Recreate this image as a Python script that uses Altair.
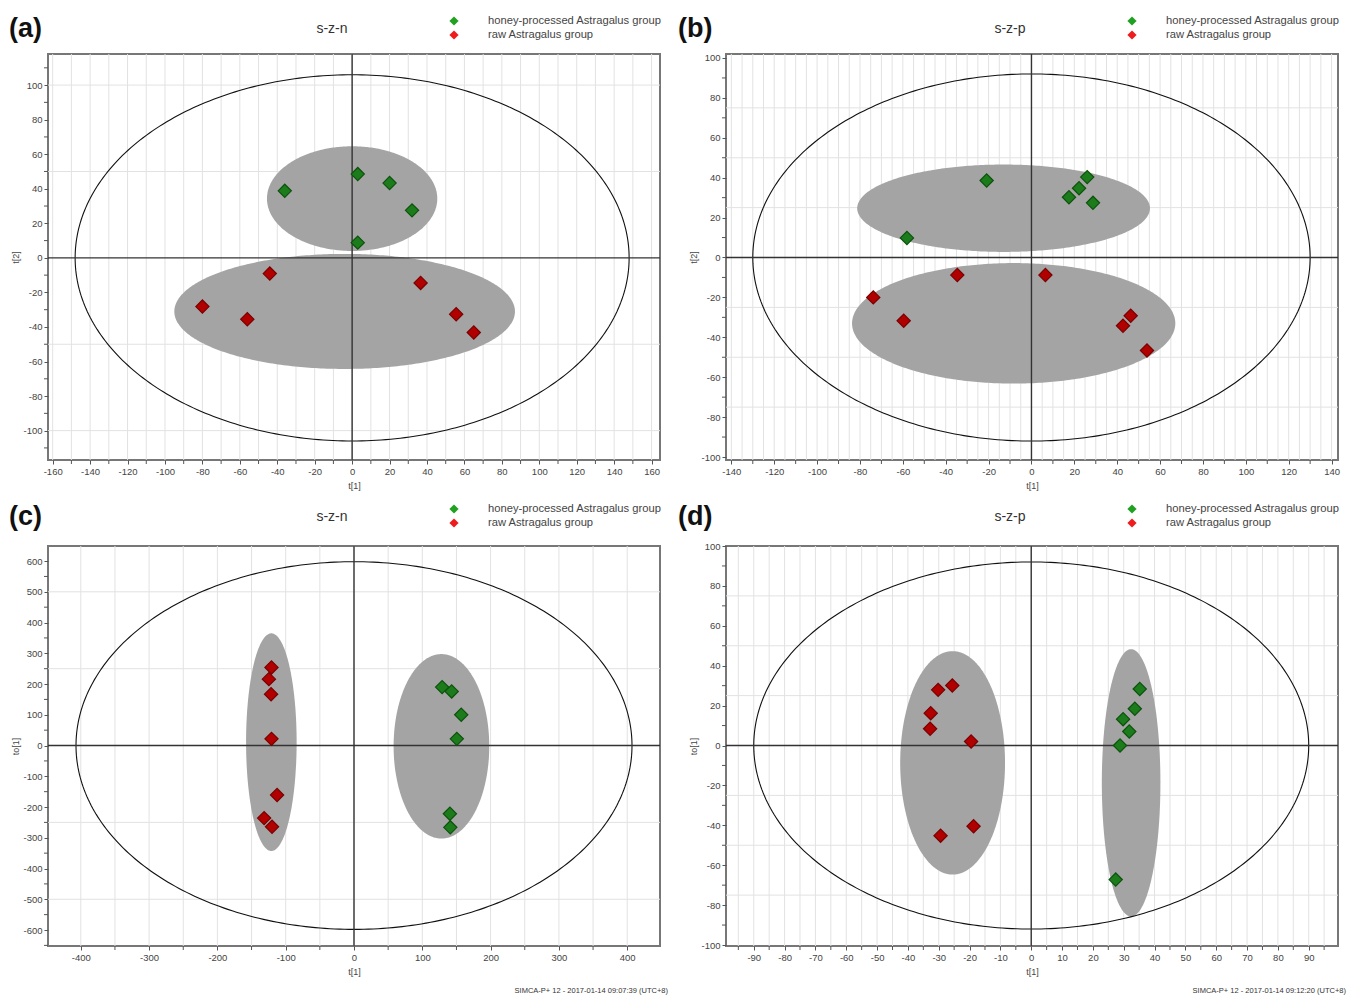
import numpy as np
import pandas as pd
import altair as alt

GROUPS = ["honey-processed Astragalus group", "raw Astragalus group"]

# ---------------- panel (a)  s-z-n : t[1] vs t[2]
A_HONEY_X = [-36, 3, 20, 32, 3]
A_HONEY_Y = [38.8, 48.5, 43.3, 27.5, 8.8]
A_RAW_X = [-44, -80, -56, 36.6, 55.6, 65]
A_RAW_Y = [-9.1, -28.2, -35.5, -14.5, -32.6, -43.2]
A_HONEY_ELL = [0, 34.3, 45.5, 30.3]      # centre x, centre y, semi x, semi y
A_RAW_ELL = [-4, -31, 91, 33.3]
A_T2 = [148, 106]
A_XLABELS = [-160, -140, -120, -100, -80, -60, -40, -20, 0, 20, 40, 60, 80, 100, 120, 140, 160]
A_YLABELS = [-100, -80, -60, -40, -20, 0, 20, 40, 60, 80, 100]

# ---------------- panel (b)  s-z-p : t[1] vs t[2]
B_HONEY_X = [-20.9, -58.1, 17.5, 22.2, 26, 28.7]
B_HONEY_Y = [38.6, 9.8, 30.2, 34.7, 40.3, 27.4]
B_RAW_X = [-73.8, -59.6, -34.6, 6.5, 46.3, 42.7, 53.9]
B_RAW_Y = [-20, -31.7, -8.8, -8.8, -29.2, -34.2, -46.6]
B_HONEY_ELL = [-13, 24.7, 68.3, 21.9]
B_RAW_ELL = [-8.3, -33, 75.4, 30.2]
B_T2 = [130, 92]
B_XLABELS = [-140, -120, -100, -80, -60, -40, -20, 0, 20, 40, 60, 80, 100, 120, 140]
B_YLABELS = [-100, -80, -60, -40, -20, 0, 20, 40, 60, 80, 100]

# ---------------- panel (c)  s-z-n : t[1] vs to[1]
C_HONEY_X = [129, 143, 157, 150.5, 140.4, 141]
C_HONEY_Y = [190, 176, 100, 21.7, -222, -266]
C_RAW_X = [-120.8, -124.6, -121.4, -120.8, -112.6, -131.6, -120]
C_RAW_Y = [254, 216, 167, 21.7, -161, -236, -264]
C_HONEY_ELL = [128, -2.5, 70, 300]
C_RAW_ELL = [-121, 11, 37, 354]
C_T2 = [407, 598]
C_XLABELS = [-400, -300, -200, -100, 0, 100, 200, 300, 400]
C_YLABELS = [-600, -500, -400, -300, -200, -100, 0, 100, 200, 300, 400, 500, 600]

# ---------------- panel (d)  s-z-p : t[1] vs to[1]
D_HONEY_X = [35.2, 33.6, 29.8, 31.8, 28.8, 27.4]
D_HONEY_Y = [28.3, 18.4, 13.2, 7, 0, -67.2]
D_RAW_X = [-30.2, -25.6, -32.6, -32.8, -19.5, -29.4, -18.7]
D_RAW_Y = [27.9, 30.1, 16.2, 8.4, 2, -45.2, -40.5]
D_HONEY_ELL = [32.4, -18.7, 9.5, 67]
D_RAW_ELL = [-25.5, -8.7, 17, 56]
D_T2 = [90, 92]
D_XLABELS = [-90, -80, -70, -60, -50, -40, -30, -20, -10, 0, 10, 20, 30, 40, 50, 60, 70, 80, 90]
D_YLABELS = [-100, -80, -60, -40, -20, 0, 20, 40, 60, 80, 100]

FOOTER_C = "SIMCA-P+ 12 - 2017-01-14 09:07:39 (UTC+8)"
FOOTER_D = "SIMCA-P+ 12 - 2017-01-14 09:12:20 (UTC+8)"

NARROW = "Liberation Sans Narrow, Arial Narrow, Liberation Sans, Arial"
W, H_TOP, H_BOT = 612, 406, 400


def ellipse_fill(params, g):
    cx, cy, a, b = params
    t = np.linspace(0, np.pi, 181)
    return pd.DataFrame({"x": cx + a * np.cos(t), "y": cy + b * np.sin(t),
                         "y2": cy - b * np.sin(t), "g": g})


def ellipse_ring(semi):
    a, b = semi
    t = np.linspace(0, 2 * np.pi, 361)
    return pd.DataFrame({"x": a * np.cos(t), "y": b * np.sin(t), "i": np.arange(361)})


def steps(lo, hi, step):
    return [int(v) for v in np.arange(lo, hi + step / 2, step)]


def panel(letter, title, hx, hy, rx, ry, hell, rell, t2, xdom, ydom,
          xlabels, ylabels, xgrid, ygrid, xminor, yminor, ytitle, height, lab_dx, footer=None):
    common = dict(grid=False, labelOverlap=False, labelFlush=False, labelBound=False,
                  tickCount=500, labelExpr="'' + datum.value")
    xaxis = alt.Axis(values=xlabels, title="t[1]", titlePadding=6, **common)
    yaxis = alt.Axis(values=ylabels, title=ytitle, titlePadding=2, **common)
    xs = alt.Scale(domain=xdom, nice=False, zero=False)
    ys = alt.Scale(domain=ydom, nice=False, zero=False)
    X = lambda f: alt.X(f, type="quantitative", scale=xs, axis=xaxis)
    Y = lambda f: alt.Y(f, type="quantitative", scale=ys, axis=yaxis)

    gx = alt.Chart(pd.DataFrame({"v": xgrid})).mark_rule(color="#e2e2e2", strokeWidth=1).encode(x=X("v"))
    gy = alt.Chart(pd.DataFrame({"v": ygrid})).mark_rule(color="#e2e2e2", strokeWidth=1).encode(y=Y("v"))
    mx = alt.Chart(pd.DataFrame({"v": xminor})).mark_rule(color="#555", strokeWidth=1).encode(
        x=X("v"), y=alt.value(height), y2=alt.value(height + 4))
    my = alt.Chart(pd.DataFrame({"v": yminor})).mark_rule(color="#555", strokeWidth=1).encode(
        y=Y("v"), x=alt.value(-4), x2=alt.value(0))

    ell = pd.concat([ellipse_fill(hell, "h"), ellipse_fill(rell, "r")])
    fill = alt.Chart(ell).mark_area(color="#a4a4a4", opacity=1).encode(
        x=X("x"), y=Y("y"), y2="y2", detail="g")
    ring = alt.Chart(ellipse_ring(t2)).mark_line(color="#111", strokeWidth=1.1).encode(
        x=X("x"), y=Y("y"), order="i")
    one = pd.DataFrame({"k": [0]})
    vrule = alt.Chart(one).mark_rule(color="#333", strokeWidth=1.4).encode(x=alt.datum(0))
    hrule = alt.Chart(one).mark_rule(color="#333", strokeWidth=1.4).encode(y=alt.datum(0))

    pts = pd.DataFrame({"x": hx + rx, "y": hy + ry,
                        "g": [GROUPS[0]] * len(hx) + [GROUPS[1]] * len(rx)})
    points = alt.Chart(pts).mark_point(shape="diamond", filled=True, size=175,
                                       strokeWidth=1.2, opacity=1).encode(
        x=X("x"), y=Y("y"),
        color=alt.Color("g:N", scale=alt.Scale(domain=GROUPS, range=["#1c7c1c", "#b00000"]), legend=None),
        stroke=alt.Stroke("g:N", scale=alt.Scale(domain=GROUPS, range=["#0c520c", "#7a0000"]), legend=None))

    ty = -25 if height == H_TOP else -29
    ly = -33 if height == H_TOP else -37
    texts = [
        alt.Chart(one).mark_text(text=f"({letter})", font="Liberation Sans", fontSize=27,
                                 fontWeight="bold", align="left", baseline="middle", color="#111"
                                 ).encode(x=alt.value(lab_dx), y=alt.value(ty)),
        alt.Chart(one).mark_text(text=title, font=NARROW, fontSize=14, align="center",
                                 baseline="middle", color="#333"
                                 ).encode(x=alt.value(284), y=alt.value(ty)),
        alt.Chart(one).mark_point(shape="diamond", filled=True, size=85, opacity=1,
                                  color="#22a022").encode(x=alt.value(406), y=alt.value(ly)),
        alt.Chart(one).mark_point(shape="diamond", filled=True, size=85, opacity=1,
                                  color="#ee1c1c").encode(x=alt.value(406), y=alt.value(ly + 14)),
        alt.Chart(one).mark_text(text=GROUPS[0], font=NARROW, fontSize=11.2, align="left",
                                 baseline="middle", color="#444"
                                 ).encode(x=alt.value(440), y=alt.value(ly)),
        alt.Chart(one).mark_text(text=GROUPS[1], font=NARROW, fontSize=11.2, align="left",
                                 baseline="middle", color="#444"
                                 ).encode(x=alt.value(440), y=alt.value(ly + 14)),
    ]
    if footer:
        texts.append(alt.Chart(one).mark_text(text=footer, font=NARROW, fontSize=7.5,
                                              align="right", baseline="middle", color="#333"
                                              ).encode(x=alt.value(620), y=alt.value(height + 45)))
    return alt.layer(gx, gy, fill, ring, vrule, hrule, points, mx, my, *texts).properties(
        width=W, height=height)


pa = panel("a", "s-z-n", A_HONEY_X, A_HONEY_Y, A_RAW_X, A_RAW_Y, A_HONEY_ELL, A_RAW_ELL, A_T2,
           [-162.5, 164.5], [-117, 118], A_XLABELS, A_YLABELS,
           steps(-160, 160, 10), [-100, -50, 50, 100],
           steps(-150, 150, 20), steps(-110, 110, 20), "t[2]", H_TOP, -39)
pb = panel("b", "s-z-p", B_HONEY_X, B_HONEY_Y, B_RAW_X, B_RAW_Y, B_HONEY_ELL, B_RAW_ELL, B_T2,
           [-142.5, 143], [-101.5, 102], B_XLABELS, B_YLABELS,
           steps(-140, 140, 5), [-75, -50, -25, 25, 50, 75],
           steps(-130, 130, 20), steps(-90, 90, 20), "t[2]", H_TOP, -48)
pc = panel("c", "s-z-n", C_HONEY_X, C_HONEY_Y, C_RAW_X, C_RAW_Y, C_HONEY_ELL, C_RAW_ELL, C_T2,
           [-448, 448], [-652, 649], C_XLABELS, C_YLABELS,
           steps(-400, 400, 50), [-500, -250, 250, 500],
           steps(-350, 350, 100), steps(-650, 550, 100), "to[1]", H_BOT, -39, FOOTER_C)
pd_ = panel("d", "s-z-p", D_HONEY_X, D_HONEY_Y, D_RAW_X, D_RAW_Y, D_HONEY_ELL, D_RAW_ELL, D_T2,
            [-99, 99.5], [-100.5, 100], D_XLABELS, D_YLABELS,
            steps(-95, 95, 5), [-75, -50, -25, 25, 50, 75],
            steps(-95, 95, 10), steps(-90, 90, 20), "to[1]", H_BOT, -48, FOOTER_D)

chart = alt.concat(pa, pb, pc, pd_, columns=2, spacing={"row": 86, "column": 66},
                   bounds="flush").properties(
    padding={"left": 0, "top": 6, "right": 5, "bottom": 0}
).configure_view(stroke="#777", strokeWidth=2).configure_axis(
    labelFont=NARROW, labelFontSize=9.5, labelColor="#444", labelPadding=2,
    tickColor="#555", tickSize=4, tickWidth=1, domain=False,
    titleFont=NARROW, titleFontSize=9, titleColor="#444", titleFontWeight="normal"
)

chart.save("out.html", embed_options={"renderer": "svg", "actions": False})
